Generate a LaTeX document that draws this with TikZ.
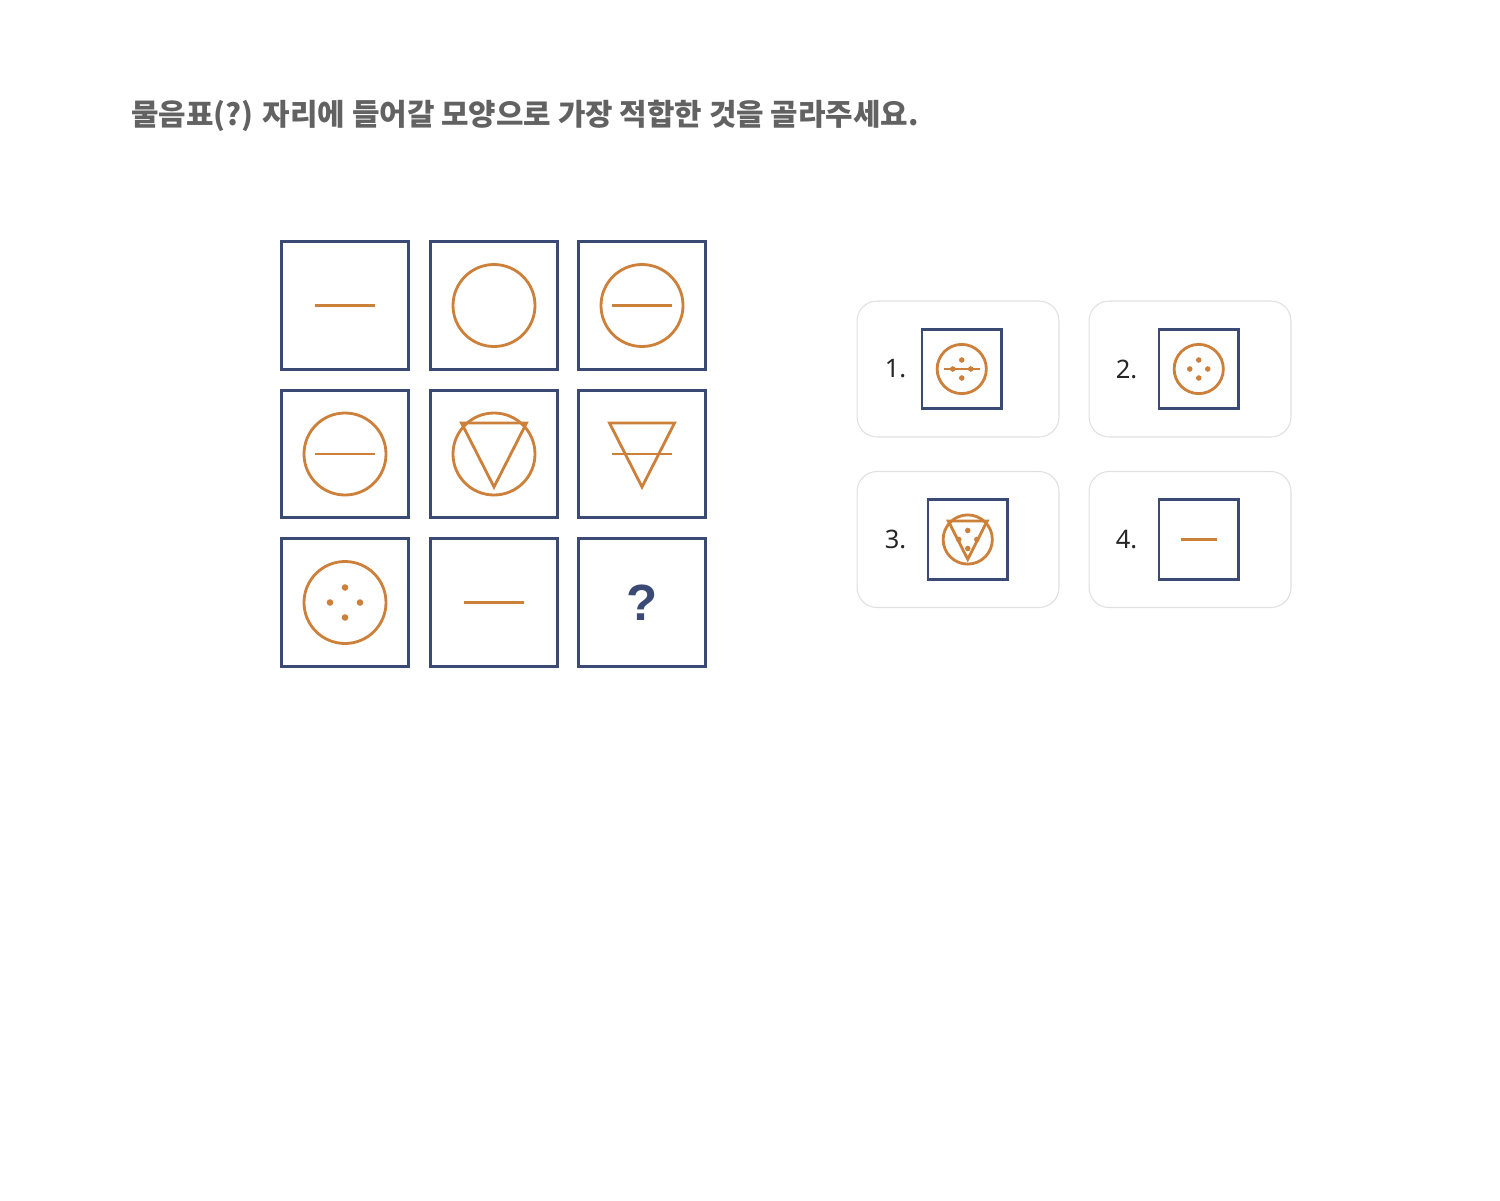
\documentclass[tikz,border=0pt]{standalone}
\usepackage{fontspec}
\setmainfont{Noto Sans}
\newfontfamily\krfont{Noto Sans CJK KR}
\newfontfamily\qfont{Liberation Sans}
\usetikzlibrary{positioning}

\definecolor{frame}{RGB}{59,73,117}
\definecolor{accent}{RGB}{204,128,58}
\definecolor{heading}{RGB}{98,98,98}
\definecolor{cardline}{RGB}{224,224,224}

\def\dotr{3.3}
\tikzset{
	cell/.style={draw=frame, line width=1.6pt, minimum size=2.55cm, inner sep=0},
	small cell/.style={cell, minimum size=1.59cm},
	card/.style={draw=cardline, line width=0.6pt, fill=white, rounded corners=0.4cm,
		minimum width=4.04cm, minimum height=2.72cm},
	num/.style={inner sep=0, anchor=west, text=black!85, font=\fontsize{14.5}{17}\selectfont},
	dotsize/.store in=\dotr,
	every pic/.style={line width=1.6pt},
	small/.style={scale=0.6, line width=0.9pt, dotsize=4.6},
	bar/.pic={\draw[accent] (-30,0) -- (30,0);},
	ring/.pic={\draw[accent] (0,0) circle (41);},
	tri/.pic={\draw[accent] (-32.5,-31) -- (32.5,-31) -- (0,33) -- cycle;},
	dots/.pic={\fill[accent] (0,-15) circle (\dotr) (-15,0) circle (\dotr) (15,0) circle (\dotr) (0,15) circle (\dotr);}
}

\begin{document}
\begin{tikzpicture}[x=0.02cm, y=-0.02cm]
	\useasboundingbox (0,0) rectangle (1500,1200);

	\node[anchor=west, inner sep=0, text=heading, font=\krfont\bfseries\fontsize{17}{20}\selectfont]
		(title) at (131,116) {물음표(?) 자리에 들어갈 모양으로 가장 적합한 것을 골라주세요.};

	% puzzle grid
	\node[cell] (c11) at (345,305.5) {};
	\node[cell] (c12) at (494,305.5) {};
	\node[cell] (c13) at (642,305.5) {};
	\node[cell] (c21) at (345,454) {};
	\node[cell] (c22) at (494,454) {};
	\node[cell] (c23) at (642,454) {};
	\node[cell] (c31) at (345,602.5) {};
	\node[cell] (c32) at (494,602.5) {};
	\node[cell, text=frame, font=\qfont\bfseries\fontsize{29}{30}\selectfont] (c33) at (642,602.5) {?};

	\pic at (c11) {bar};
	\pic at (c12) {ring};
	\pic at (c13) {ring};
	\pic at (c13) {bar};
	\pic at (c21) {ring};
	\pic at (c21) {bar};
	\pic at (c22) {ring};
	\pic at (c22) {tri};
	\pic at (c23) {tri};
	\pic at (c23) {bar};
	\pic at (c31) {ring};
	\pic at (c31) {dots};
	\pic at (c32) {bar};

	% answer cards
	\node[card] (k1) at (958,369) {};
	\node[card] (k2) at (1190,369) {};
	\node[card] (k3) at (958,539.5) {};
	\node[card] (k4) at (1190,539.5) {};

	\node[num] (n1) at ([xshift=0.56cm]k1.west) {1.};
	\node[num] (n2) at ([xshift=0.54cm]k2.west) {2.};
	\node[num] (n3) at ([xshift=0.56cm]k3.west) {3.};
	\node[num] (n4) at ([xshift=0.54cm]k4.west) {4.};

	\node[small cell, right=0.28cm of n1] (o1) {};
	\node[small cell, right=0.4cm of n2] (o2) {};
	\node[small cell, right=0.4cm of n3] (o3) {};
	\node[small cell, right=0.4cm of n4] (o4) {};

	\pic[small] at (o1) {ring};
	\pic[small] at (o1) {bar};
	\pic[small] at (o1) {dots};
	\pic[small] at (o2) {ring};
	\pic[small] at (o2) {dots};
	\pic[small] at (o3) {ring};
	\pic[small] at (o3) {tri};
	\pic[small] at (o3) {dots};
	\pic[small] at (o4) {bar};
\end{tikzpicture}
\end{document}
